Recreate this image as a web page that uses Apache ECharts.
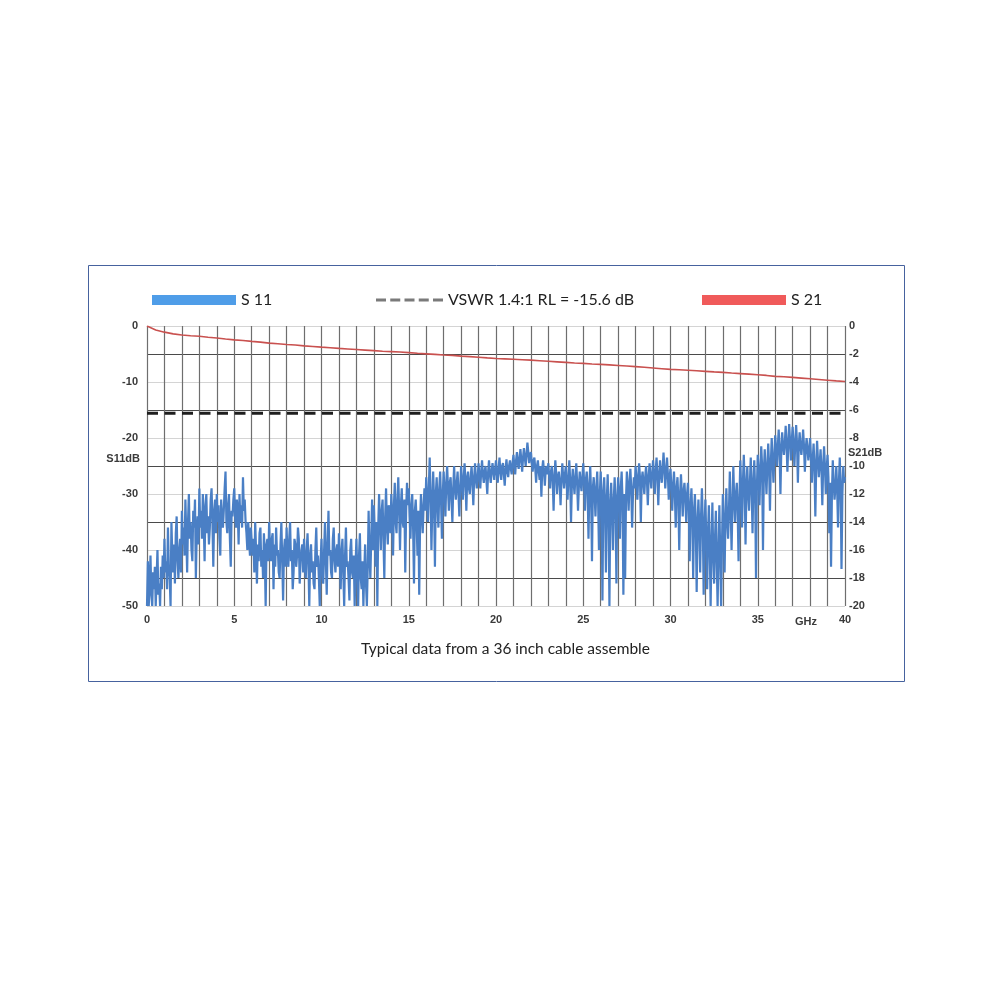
<!DOCTYPE html>
<html>
<head>
<meta charset="utf-8">
<title>S11 / S21</title>
<script src="https://cdn.jsdelivr.net/npm/echarts@6/dist/echarts.min.js"></script>
<style>
  html, body { margin: 0; padding: 0; background: #fff; }
  #main { width: 1000px; height: 1000px; }
</style>
</head>
<body>
<div id="main"></div>
<script>
// 频率范围 (GHz)
var freqMin = 0
var freqMax = 40

// S11 采样：从 0 GHz 起，每 0.05 GHz 一个点（按图读出的数值，每行 1 GHz）
var s11Step = 0.05
var s11Values = [
  -50, -42, -50, -46, -41, -48, -50, -44, -47, -43, -50, -45, -40, -48, -46, -50, -43, -47, -41, -45,
  -38, -44, -42, -47, -36, -43, -45, -50, -35, -41, -44, -39, -46, -37, -34, -42, -45, -40, -38, -44,
  -33, -39, -36, -41, -31, -37, -44, -35, -30, -38, -35, -40, -42, -33, -36, -31, -45, -37, -34, -39,
  -29, -36, -33, -38, -30, -35, -42, -32, -30, -37, -34, -39, -36, -31, -29, -35, -43, -33, -31, -37,
  -30, -35, -32, -38, -41, -31, -34, -36, -33, -29, -26, -35, -37, -32, -30, -38, -43, -33, -34, -31,
  -29, -34, -36, -31, -33, -39, -30, -35, -32, -36, -27, -33, -31, -35, -37, -40, -35, -38, -41, -36,
  -36, -41, -38, -44, -35, -40, -46, -39, -42, -37, -36, -43, -40, -45, -37, -41, -50, -39, -38, -42,
  -35, -40, -42, -38, -37, -47, -39, -43, -36, -41, -40, -44, -45, -39, -35, -42, -49, -40, -38, -43,
  -36, -41, -43, -38, -35, -42, -40, -47, -44, -38, -39, -43, -41, -36, -38, -46, -42, -40, -39, -44,
  -38, -43, -45, -40, -37, -42, -50, -41, -39, -44, -42, -46, -47, -40, -36, -43, -41, -45, -50, -42,
  -38, -44, -46, -40, -35, -42, -48, -39, -33, -41, -40, -44, -45, -38, -36, -42, -44, -40, -39, -43,
  -37, -42, -47, -40, -38, -44, -50, -41, -36, -43, -42, -45, -49, -40, -38, -44, -45, -41, -50, -43,
  -38, -44, -50, -41, -37, -45, -47, -42, -50, -44, -39, -46, -50, -43, -33, -41, -45, -38, -31, -40,
  -32, -37, -43, -35, -50, -36, -30, -35, -40, -33, -31, -38, -45, -34, -29, -36, -39, -32, -34, -37,
  -30, -34, -41, -32, -28, -35, -37, -31, -27, -33, -40, -32, -29, -35, -36, -31, -44, -33, -28, -32,
  -29, -34, -38, -32, -30, -36, -46, -33, -31, -35, -41, -33, -48, -35, -30, -34, -37, -32, -29, -33,
  -27, -31, -35, -29, -23.5, -30, -40, -32, -26, -31, -43, -30, -27, -32, -36, -29, -26, -31, -38, -30,
  -26, -30, -34, -28, -25, -29, -33, -28, -27, -31, -35, -29, -25, -29, -31, -28, -26, -30, -34, -29,
  -25, -28, -31, -27, -24.5, -28, -33, -27, -26, -29, -30, -27, -25, -28, -32, -27, -24.5, -27.5, -29, -27,
  -24.5, -27, -29, -26, -24, -26.5, -28, -26, -25, -27.5, -30, -26, -24, -26.5, -28, -26, -24.5, -26, -27.5, -25.5,
  -24, -26.5, -28, -25.5, -23.5, -26, -27.5, -25, -24.5, -26.5, -28.5, -25.5, -23.8, -26, -27, -25, -24, -25.5, -26.5, -24.5,
  -23, -25, -26.5, -24, -22.5, -24.5, -25.5, -23.5, -22, -24, -26, -23.5, -21.8, -23.5, -25, -23, -20.8, -22.5, -24.5, -23,
  -22.5, -24.5, -26, -24, -23.5, -25.5, -28, -25, -24, -26, -27.5, -25, -30.5, -25.5, -24, -26, -28.5, -25.5, -25, -26.5,
  -24.5, -27, -29, -26, -25, -27.5, -33, -27, -24, -26.5, -30, -27, -26, -28, -32, -27.5, -24.5, -27, -29, -26.5,
  -25, -28, -31, -27, -24, -27.5, -35, -28, -25.5, -28, -30, -27, -24.5, -28, -33, -28.5, -26, -28, -29.5, -27,
  -24.5, -28, -33, -27.5, -26, -29, -38, -29, -25, -30, -42, -29, -27, -30, -34, -29, -26, -31, -40, -30,
  -26, -31, -49, -30, -27, -32, -44, -31, -26.5, -33, -50, -32, -28, -33, -40, -31, -27, -32, -46, -31,
  -27, -30, -38, -29, -26, -31, -48, -30, -45, -31, -26, -29, -33, -28, -25.5, -29, -36, -30, -27, -29,
  -25, -27.5, -31, -27, -24.5, -27, -35, -27.5, -26, -28, -30, -27, -25, -27.5, -32, -27, -24.5, -27, -29, -26.5,
  -24, -26.5, -30, -26, -23.5, -26.5, -32, -27, -24, -26.5, -28, -25.5, -22.6, -25.5, -29, -26, -23.5, -26.5, -31, -27,
  -25.5, -29, -33, -28.5, -26, -30, -36, -29, -27, -31, -40, -30, -26.5, -30, -34, -29.5, -28, -31, -35, -30,
  -28, -33, -42, -32, -29, -34, -45, -33, -30, -36, -47.5, -35, -31, -36, -44, -34, -29, -35, -48, -36,
  -31, -38, -47, -37, -32, -40, -50, -39, -31.5, -41, -46, -38, -33, -42, -50, -40, -32, -41, -50, -39,
  -30, -36, -44, -34, -29, -35, -38, -33, -26, -33, -40, -32, -25, -31, -35, -30, -28, -33, -42, -31,
  -24, -29, -36, -28, -23, -28, -39, -29, -25, -30, -33, -28, -23.5, -29, -37, -28, -24, -29, -45, -29,
  -23, -26, -32, -25.5, -21.5, -25, -40, -26, -22, -26, -30, -25, -21, -25, -33, -24.5, -20, -24, -28, -23.5,
  -19.5, -22, -25, -21.5, -18.5, -22, -30, -22, -19, -21.5, -23, -21, -17.8, -21, -26, -21, -17.5, -20.5, -24, -20.5,
  -18, -21, -25, -21, -17.7, -21, -28, -21.5, -19, -21.5, -23, -21, -18.5, -21.5, -26, -22, -20, -22, -24, -22,
  -20, -23.5, -28, -24, -21, -25, -34, -25, -20.5, -24, -27, -24.5, -22, -25.5, -32, -25, -21.5, -25, -30, -25.5,
  -23, -27, -37, -28, -43, -30, -24, -28, -31, -29, -25, -29, -36, -28, -23.5, -28, -43.4, -30, -25, -28,
  -27
]

// S21 采样：每 0.5 GHz 一个点
var s21Step = 0.5
var s21Values = [
  0, -0.28, -0.44, -0.56, -0.64, -0.7, -0.73, -0.8, -0.86, -0.93,
  -0.99, -1.04, -1.1, -1.15, -1.22, -1.27, -1.32, -1.36, -1.42, -1.46,
  -1.51, -1.55, -1.6, -1.64, -1.68, -1.72, -1.76, -1.8, -1.83, -1.86,
  -1.9, -1.95, -1.99, -2.03, -2.07, -2.1, -2.15, -2.19, -2.23, -2.28,
  -2.32, -2.35, -2.38, -2.41, -2.44, -2.48, -2.52, -2.56, -2.6, -2.64,
  -2.67, -2.71, -2.74, -2.78, -2.82, -2.86, -2.9, -2.95, -3.0, -3.05,
  -3.1, -3.13, -3.16, -3.2, -3.24, -3.28, -3.31, -3.36, -3.4, -3.44,
  -3.48, -3.53, -3.6, -3.63, -3.67, -3.72, -3.77, -3.82, -3.87, -3.92,
  -3.96
]

// VSWR 1.4:1 对应的回波损耗
var vswrLevel = -15.6

// 刻度
var s11Ticks = [0, -10, -20, -30, -40, -50]
var s21Ticks = [0, -2, -4, -6, -8, -10, -12, -14, -16, -18, -20]
var freqTicks = [0, 5, 10, 15, 20, 25, 30, 35, 40]

// 图例文字
var names = ['S 11', 'VSWR 1.4:1 RL = -15.6 dB', 'S 21']
var caption = 'Typical data from a 36 inch cable assemble'

// 把数值数组转成 [x, y] 点
function toPoints(values, step) {
    return values.map(function (v, i) {
        return [+(freqMin + i * step).toFixed(2), v]
    })
}

var s11Data = toPoints(s11Values, s11Step)
var s21Data = toPoints(s21Values, s21Step)
var vswrData = [[freqMin, vswrLevel], [freqMax, vswrLevel]]

var myChart = echarts.init(document.getElementById('main'))

var tickFont = {
    fontFamily: 'Liberation Sans, Arial, sans-serif',
    fontWeight: 'bold',
    fontSize: 11,
    color: '#3a3a3a'
}
var textFont = 'Lato, Open Sans, sans-serif'
var legendText = { fontFamily: textFont, fontSize: 16, color: '#222' }

var option = {
    animation: false,
    backgroundColor: '#fff',
    title: {
        text: caption,
        left: 361,
        top: 641,
        padding: 0,
        textStyle: { fontFamily: textFont, fontSize: 15.5, fontWeight: 'normal', color: '#222' }
    },
    legend: [
        {
            left: 152, top: 292, padding: 0, selectedMode: false,
            itemWidth: 84, itemHeight: 10, itemGap: 0,
            textStyle: legendText,
            data: [{ name: names[0], icon: 'rect', itemStyle: { color: '#4f9de8' } }]
        },
        {
            left: 376, top: 292, padding: 0, selectedMode: false,
            itemWidth: 67, itemHeight: 3, itemGap: 0,
            textStyle: legendText,
            data: [{
                name: names[1],
                // 虚线图例
                icon: 'path://M0,0h10v3h-10z M14.25,0h10v3h-10z M28.5,0h10v3h-10z M42.75,0h10v3h-10z M57,0h10v3h-10z',
                itemStyle: { color: '#7a7a7a' }
            }]
        },
        {
            left: 702, top: 292, padding: 0, selectedMode: false,
            itemWidth: 84, itemHeight: 10, itemGap: 0,
            textStyle: legendText,
            data: [{ name: names[2], icon: 'rect', itemStyle: { color: '#f05a5a' } }]
        }
    ],
    grid: { left: 147, right: 155, top: 326, height: 280, containLabel: false },
    xAxis: {
        type: 'value',
        min: freqMin, max: freqMax, interval: 1,
        name: 'GHz',
        nameLocation: 'end',
        nameGap: -50,
        nameMoveOverlap: false,
        nameTextStyle: Object.assign({}, tickFont, { align: 'left', verticalAlign: 'top', padding: [10, 0, 0, 0] }),
        axisLine: { show: false, onZero: false },
        axisTick: { show: false },
        axisLabel: Object.assign({}, tickFont, {
            margin: 8,
            formatter: function (v) { return freqTicks.indexOf(v) >= 0 ? v : '' }
        }),
        splitLine: { show: true, lineStyle: { color: '#6e6e6e', width: 1.2 } }
    },
    yAxis: [
        {
            type: 'value',
            min: -50, max: 0, interval: 5,
            name: 'S11dB',
            nameLocation: 'middle',
            nameRotate: 0,
            nameGap: 7,
            nameMoveOverlap: false,
            nameTextStyle: Object.assign({}, tickFont, { align: 'right', verticalAlign: 'bottom', lineHeight: 14 }),
            axisLine: { show: false, onZero: false },
            axisTick: { show: false },
            axisLabel: Object.assign({}, tickFont, {
                margin: 9,
                formatter: function (v) { return s11Ticks.indexOf(v) >= 0 ? v : '' }
            }),
            // 深浅交替的水平网格线
            splitLine: { show: true, lineStyle: { color: ['#d4d4d4', '#4a4a4a'], width: 1.2 } }
        },
        {
            type: 'value',
            min: -20, max: 0, interval: 2,
            name: 'S21dB',
            nameLocation: 'middle',
            nameRotate: 0,
            nameGap: 3,
            nameMoveOverlap: false,
            nameTextStyle: Object.assign({}, tickFont, { align: 'left', verticalAlign: 'bottom', lineHeight: 27 }),
            axisLine: { show: false, onZero: false },
            axisTick: { show: false },
            axisLabel: Object.assign({}, tickFont, {
                margin: 4,
                formatter: function (v) { return s21Ticks.indexOf(v) >= 0 ? v : '' }
            }),
            splitLine: { show: false }
        }
    ],
    series: [
        {
            name: names[0],
            type: 'line',
            yAxisIndex: 0,
            data: s11Data,
            showSymbol: false,
            symbol: 'none',
            sampling: false,
            lineStyle: { color: '#4a7fc5', width: 2.2, join: 'bevel' },
            itemStyle: { color: '#4a7fc5' },
            z: 3
        },
        {
            name: names[1],
            type: 'line',
            yAxisIndex: 0,
            data: vswrData,
            symbol: 'none',
            lineStyle: { color: '#1e1e1e', width: 3, type: [11, 6.5] },
            itemStyle: { color: '#1e1e1e' },
            z: 4
        },
        {
            name: names[2],
            type: 'line',
            yAxisIndex: 1,
            data: s21Data,
            symbol: 'none',
            lineStyle: { color: '#c9514f', width: 1.6 },
            itemStyle: { color: '#c9514f' },
            z: 4
        }
    ],
    graphic: [
        {
            type: 'rect',
            shape: { x: 88.5, y: 265.5, width: 816, height: 416 },
            style: { fill: 'none', stroke: '#46629e', lineWidth: 1 },
            silent: true
        }
    ]
}

option && myChart.setOption(option)
</script>
</body>
</html>
